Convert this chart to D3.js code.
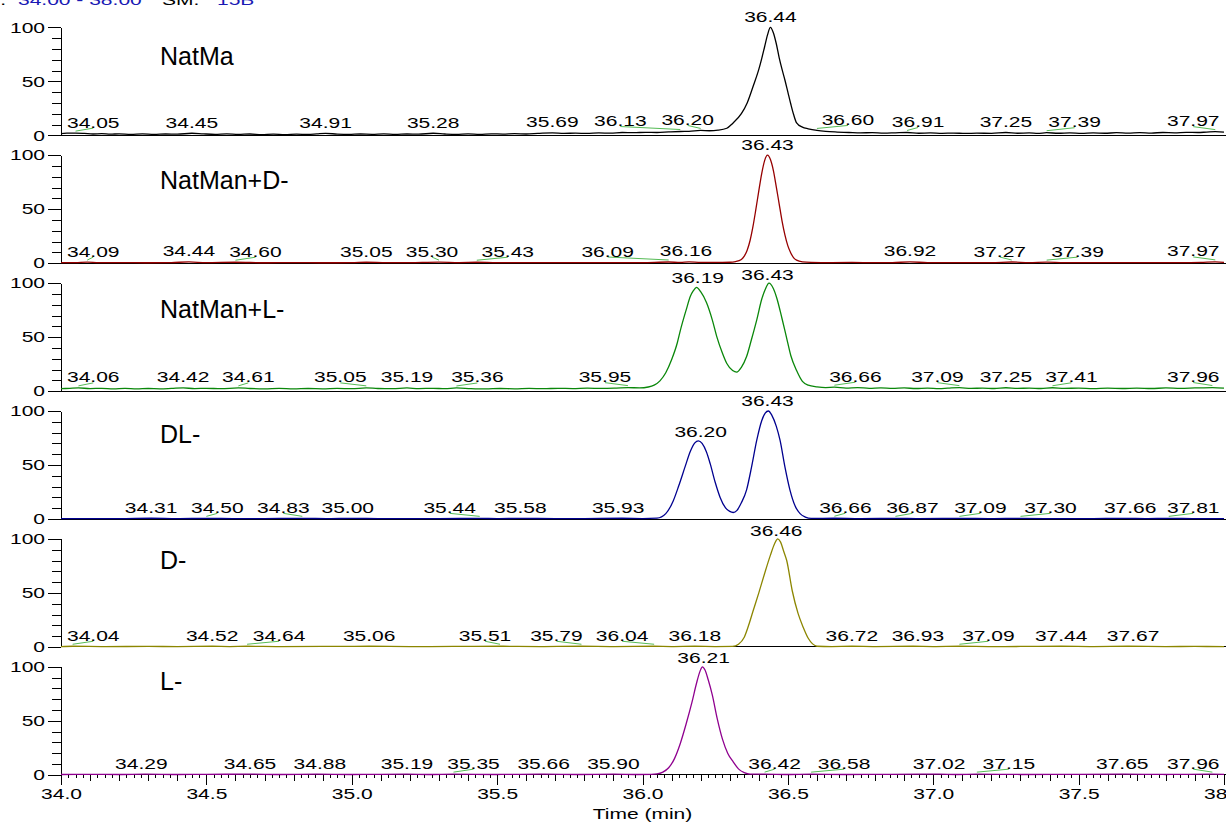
<!DOCTYPE html>
<html>
<head>
<meta charset="utf-8">
<script src="https://cdn.jsdelivr.net/npm/d3@7"></script>
<style>
  body { margin: 0; background: #fff; }
  svg { display: block; }
  text { font-family: "Liberation Sans", Arial, sans-serif; }
</style>
</head>
<body>
<svg id="chart" width="1226" height="823"></svg>
<script>
// ---- Chromatogram traces: [retention time (min), relative abundance (%)] ----
const traceNatMa = [[34.00,1.6],[34.02,2.0],[34.05,2.0],[34.08,1.7],[34.11,1.2],[34.14,1.5],[34.17,1.0],[34.20,1.4],[34.24,0.9],[34.28,1.3],[34.32,0.8],[34.36,1.2],[34.40,1.0],[34.45,1.9],[34.49,1.3],[34.53,0.9],[34.57,1.4],[34.61,0.8],[34.65,1.2],[34.69,0.7],[34.73,1.1],[34.77,0.6],[34.81,1.0],[34.85,0.8],[34.88,1.3],[34.91,1.8],[34.95,1.1],[34.99,0.8],[35.03,1.2],[35.07,0.9],[35.11,1.3],[35.15,0.8],[35.19,1.2],[35.23,1.0],[35.28,1.9],[35.32,1.2],[35.36,0.8],[35.40,1.3],[35.44,0.9],[35.48,1.4],[35.52,1.1],[35.56,1.5],[35.60,1.2],[35.64,1.7],[35.69,2.3],[35.73,1.8],[35.77,2.0],[35.81,1.7],[35.85,2.2],[35.89,2.0],[35.93,2.6],[35.97,2.4],[36.01,2.8],[36.05,2.6],[36.09,3.1],[36.13,3.5],[36.16,3.6],[36.20,4.5],[36.23,4.2],[36.26,4.7],[36.29,6.5],[36.31,11],[36.34,20],[36.36,30],[36.38,45],[36.40,61],[36.41,71],[36.42,82],[36.43,93],[36.44,100],[36.45,95],[36.46,85],[36.47,72],[36.48,61],[36.49,51],[36.50,40],[36.51,29],[36.52,19],[36.53,11.5],[36.55,7.5],[36.57,6],[36.60,4.5],[36.63,3.6],[36.67,3.0],[36.71,2.6],[36.75,2.2],[36.79,2.5],[36.83,2.0],[36.87,2.3],[36.91,2.6],[36.95,1.9],[36.99,2.2],[37.03,1.8],[37.07,2.1],[37.11,1.7],[37.15,2.0],[37.20,1.8],[37.25,2.6],[37.29,1.9],[37.33,2.2],[37.36,1.8],[37.39,2.4],[37.43,1.9],[37.47,2.3],[37.51,1.8],[37.55,2.2],[37.59,1.9],[37.63,2.4],[37.67,2.0],[37.71,2.5],[37.75,2.1],[37.79,2.6],[37.83,2.3],[37.87,2.8],[37.91,2.6],[37.94,3.0],[37.97,3.4],[38.00,3.0]];

const traceNatManD = [[34.00,0.5],[34.05,0.6],[34.09,1.0],[34.13,0.5],[34.20,0.6],[34.30,0.4],[34.38,0.6],[34.44,1.2],[34.50,0.5],[34.60,0.9],[34.70,0.4],[34.80,0.6],[34.90,0.4],[35.00,0.5],[35.05,0.9],[35.12,0.5],[35.20,0.6],[35.30,1.0],[35.37,0.6],[35.43,0.9],[35.50,0.5],[35.60,0.6],[35.70,0.5],[35.80,0.6],[35.90,0.5],[36.00,0.6],[36.09,1.1],[36.13,0.7],[36.16,1.3],[36.20,0.8],[36.26,0.8],[36.30,0.9],[36.32,1.5],[36.34,3.5],[36.35,6.5],[36.36,12],[36.37,21],[36.38,34],[36.39,50],[36.40,67],[36.41,83],[36.42,95],[36.43,100],[36.44,96],[36.45,86],[36.46,71],[36.47,55],[36.48,39],[36.49,26],[36.50,16],[36.51,9.5],[36.52,5],[36.53,2.8],[36.55,1.3],[36.58,0.8],[36.65,0.6],[36.72,0.7],[36.80,0.5],[36.86,0.6],[36.92,1.2],[36.98,0.6],[37.05,0.5],[37.12,0.6],[37.20,0.5],[37.27,1.1],[37.33,0.6],[37.39,1.0],[37.45,0.5],[37.55,0.6],[37.65,0.5],[37.75,0.6],[37.85,0.5],[37.92,0.7],[37.97,1.2],[38.00,0.8]];

const traceNatManL = [[34.00,2.2],[34.03,2.6],[34.06,3.0],[34.10,2.3],[34.14,2.6],[34.18,2.1],[34.22,2.5],[34.26,2.0],[34.30,2.4],[34.34,2.1],[34.38,2.5],[34.42,3.0],[34.46,2.3],[34.50,2.6],[34.55,2.2],[34.61,3.0],[34.65,2.4],[34.70,2.1],[34.75,2.5],[34.80,2.0],[34.85,2.4],[34.90,2.1],[34.95,2.5],[35.00,2.2],[35.05,3.0],[35.09,2.4],[35.14,2.2],[35.19,2.9],[35.23,2.3],[35.28,2.6],[35.32,2.2],[35.36,2.9],[35.41,2.3],[35.46,2.0],[35.51,2.4],[35.56,2.1],[35.61,2.5],[35.66,2.2],[35.71,2.6],[35.76,2.3],[35.81,2.7],[35.86,2.5],[35.91,2.8],[35.95,3.2],[35.99,3.0],[36.02,3.8],[36.04,5.5],[36.06,9.5],[36.08,17],[36.10,29],[36.12,45],[36.13,56],[36.15,75],[36.165,88],[36.175,93],[36.186,96],[36.20,92],[36.22,82],[36.24,66],[36.256,50],[36.275,35],[36.29,25.5],[36.31,19],[36.324,17.5],[36.34,22],[36.358,32],[36.375,48],[36.393,66],[36.41,85],[36.422,94],[36.435,100],[36.45,95],[36.462,86],[36.48,67],[36.495,50],[36.51,33],[36.53,19],[36.55,9],[36.57,5.5],[36.60,4.0],[36.63,3.3],[36.66,3.6],[36.70,2.8],[36.74,3.2],[36.78,2.6],[36.82,3.0],[36.86,2.5],[36.90,2.9],[36.94,2.4],[36.98,2.8],[37.02,2.3],[37.05,2.7],[37.09,3.2],[37.13,2.5],[37.17,2.8],[37.21,2.4],[37.25,3.1],[37.29,2.5],[37.33,2.8],[37.37,2.4],[37.41,3.1],[37.45,2.5],[37.50,2.8],[37.55,2.3],[37.60,2.7],[37.65,2.4],[37.70,2.8],[37.75,2.4],[37.80,2.9],[37.85,2.5],[37.90,2.9],[37.96,3.3],[38.00,2.8]];

const traceDL = [[34.00,0.3],[34.10,0.4],[34.20,0.3],[34.31,0.7],[34.40,0.3],[34.50,0.6],[34.60,0.3],[34.70,0.4],[34.83,0.6],[34.92,0.3],[35.00,0.6],[35.10,0.3],[35.20,0.4],[35.30,0.3],[35.44,0.6],[35.50,0.3],[35.58,0.6],[35.70,0.3],[35.80,0.4],[35.93,0.7],[36.00,0.4],[36.05,0.8],[36.08,5],[36.106,17],[36.125,31],[36.146,48],[36.165,63],[36.18,70.5],[36.192,72.4],[36.205,70],[36.22,62],[36.233,51],[36.25,34],[36.267,20],[36.285,10.5],[36.30,7],[36.312,6],[36.325,8],[36.34,15],[36.358,27],[36.375,48],[36.393,73],[36.41,91],[36.422,98],[36.433,100],[36.445,96],[36.46,86],[36.473,73],[36.49,48],[36.507,27],[36.525,12],[36.542,5],[36.56,1.8],[36.58,0.5],[36.66,0.7],[36.75,0.3],[36.87,0.6],[36.95,0.3],[37.09,0.6],[37.20,0.3],[37.30,0.6],[37.45,0.3],[37.55,0.4],[37.66,0.6],[37.73,0.3],[37.81,0.6],[37.90,0.3],[38.00,0.3]];

const traceD = [[34.00,0.3],[34.04,0.6],[34.15,0.3],[34.30,0.4],[34.40,0.3],[34.52,0.6],[34.58,0.3],[34.64,0.6],[34.75,0.3],[34.90,0.4],[35.06,0.6],[35.20,0.3],[35.35,0.4],[35.51,0.6],[35.65,0.3],[35.79,0.6],[35.90,0.3],[36.04,0.6],[36.10,0.3],[36.18,0.6],[36.25,0.3],[36.31,0.4],[36.33,2.5],[36.35,9],[36.365,20],[36.38,33],[36.40,50],[36.42,68],[36.44,85],[36.455,96],[36.465,100],[36.475,97],[36.485,89],[36.496,80],[36.515,52],[36.535,31],[36.553,18],[36.57,8],[36.585,2.8],[36.60,0.6],[36.65,0.3],[36.72,0.6],[36.80,0.3],[36.93,0.6],[37.00,0.3],[37.09,0.6],[37.20,0.3],[37.30,0.4],[37.44,0.6],[37.55,0.3],[37.67,0.6],[37.80,0.3],[37.90,0.4],[38.00,0.3]];

const traceL = [[34.00,0.3],[34.10,0.4],[34.20,0.3],[34.29,0.6],[34.40,0.3],[34.50,0.4],[34.65,0.6],[34.75,0.3],[34.88,0.6],[35.00,0.3],[35.10,0.4],[35.19,0.6],[35.27,0.3],[35.35,0.6],[35.50,0.3],[35.66,0.6],[35.78,0.3],[35.90,0.6],[35.98,0.3],[36.03,0.4],[36.05,0.8],[36.07,2.5],[36.09,6.5],[36.11,15],[36.13,29],[36.15,47],[36.17,67],[36.186,85],[36.198,96],[36.206,100],[36.215,97],[36.226,88],[36.24,74],[36.257,52],[36.275,33],[36.293,20],[36.312,12],[36.33,5.5],[36.35,2],[36.37,0.6],[36.42,0.6],[36.50,0.3],[36.58,0.6],[36.70,0.3],[36.85,0.4],[37.02,0.6],[37.08,0.3],[37.15,0.6],[37.30,0.3],[37.50,0.4],[37.65,0.6],[37.80,0.3],[37.96,0.6],[38.00,0.4]];

// ---- Labelled peak apex times (min) per trace ----
const peaksNatMa   = [34.05,34.45,34.91,35.28,35.69,36.13,36.20,36.44,36.60,36.91,37.25,37.39,37.97];
const peaksNatManD = [34.09,34.44,34.60,35.05,35.30,35.43,36.09,36.16,36.43,36.92,37.27,37.39,37.97];
const peaksNatManL = [34.06,34.42,34.61,35.05,35.19,35.36,35.95,36.19,36.43,36.66,37.09,37.25,37.41,37.96];
const peaksDL      = [34.31,34.50,34.83,35.00,35.44,35.58,35.93,36.20,36.43,36.66,36.87,37.09,37.30,37.66,37.81];
const peaksD       = [34.04,34.52,34.64,35.06,35.51,35.79,36.04,36.18,36.46,36.72,36.93,37.09,37.44,37.67];
const peaksL       = [34.29,34.65,34.88,35.19,35.35,35.66,35.90,36.21,36.42,36.58,37.02,37.15,37.65,37.96];

const traceNames = ["NatMa", "NatMan+D-", "NatMan+L-", "DL-", "D-", "L-"];
const traceColors = ["#000000", "#960000", "#0a870a", "#00008f", "#8c8600", "#8f008f"];

const timeTicks = [34.0, 34.5, 35.0, 35.5, 36.0, 36.5, 37.0, 37.5, 38.0];
const abundanceTicks = [0, 50, 100];

// ---- Layout (pixels) ----
// horizontal nudges of peak labels so neighbouring labels do not collide
const nudgeNatMa   = [0,0,0,0,0,-60,-13,0,31,11,0,28,0];
const nudgeNatManD = [0,0,20,0,-7,31,-61,-3,0,0,-12,31,0];
const nudgeNatManL = [0,0,10,-26,0,21,-23,0,0,21,-22,0,19,0];
const nudgeDL      = [0,11,-19,-4,-30,0,-4,0,0,11,17,21,30,5,25];
const nudgeD       = [0,0,32,0,-15,-25,-32,0,0,0,5,29,0,5];
const nudgeL       = [-4,0,3,0,20,0,0,0,10,33,0,32,0,0];
const nameRise = [70, 74, 73, 76, 78, 85];   // name baseline height above each panel's zero line

const W = 1226, H = 823;
const zeroLine0 = 135.3, panelStride = 127.9, panelH = 108;
const numSize = 14.8, numStretch = 1.42;

const traces = [traceNatMa, traceNatManD, traceNatManL, traceDL, traceD, traceL];
const peaks = [peaksNatMa, peaksNatManD, peaksNatManL, peaksDL, peaksD, peaksL];
const nudges = [nudgeNatMa, nudgeNatManD, nudgeNatManL, nudgeDL, nudgeD, nudgeL];

const svg = d3.select("#chart");
svg.append("rect").attr("width", W).attr("height", H).attr("fill", "#fff");

const x = d3.scaleLinear().domain([34, 38]).range([61, 1224]);

svg.append("defs").append("clipPath").attr("id", "plotClip")
  .append("rect").attr("x", 61).attr("y", 0).attr("width", W - 61).attr("height", H);

// horizontally widened numeric text
function numText(g, str, px, py, anchor, fill) {
  return g.append("text")
    .attr("transform", `translate(${px},${py}) scale(${numStretch},1)`)
    .attr("text-anchor", anchor || "middle")
    .attr("font-size", numSize)
    .attr("fill", fill || "#000")
    .text(str);
}

// value of a trace at time t (linear between samples)
const bis = d3.bisector(d => d[0]).left;
function valueAt(tr, t) {
  const i = bis(tr, t);
  if (i <= 0) return tr[0][1];
  if (i >= tr.length) return tr[tr.length - 1][1];
  const a = tr[i - 1], b = tr[i];
  return a[1] + (b[1] - a[1]) * (t - a[0]) / (b[0] - a[0]);
}

// ---- header (run range and smoothing) ----
const hdr = svg.append("g");
numText(hdr, "RT:", 6, 5, "end", "#000");
numText(hdr, "34.00 - 38.00", 18, 5, "start", "#1a1ab4");
numText(hdr, "SM:", 162, 5, "start", "#000");
numText(hdr, "15B", 217, 5, "start", "#1a1ab4");

traces.forEach((tr, i) => {
  const y0 = zeroLine0 + i * panelStride;
  const y = d3.scaleLinear().domain([0, 100]).range([y0, y0 - panelH]);
  const g = svg.append("g");

  // zero line across the panel
  g.append("line").attr("x1", 61).attr("x2", W).attr("y1", y0).attr("y2", y0)
    .attr("stroke", "#000").attr("stroke-width", 1).attr("shape-rendering", "crispEdges");

  // relative abundance axis
  const yMajor = g.append("g").attr("transform", "translate(61,0)")
    .call(d3.axisLeft(y).tickValues(abundanceTicks).tickSize(13).tickSizeOuter(0).tickPadding(3));
  yMajor.selectAll("path, line").attr("stroke", "#000").attr("shape-rendering", "crispEdges");
  yMajor.selectAll("text")
    .attr("x", -16 / numStretch)
    .attr("transform", `scale(${numStretch},1)`)
    .attr("font-size", numSize)
    .attr("font-family", "'Liberation Sans', Arial, sans-serif")
    .attr("fill", "#000");
  const yMinor = g.append("g").attr("transform", "translate(61,0)")
    .call(d3.axisLeft(y).tickValues([10, 20, 30, 40, 60, 70, 80, 90]).tickSize(9).tickFormat(""));
  yMinor.select(".domain").remove();
  yMinor.selectAll("line").attr("stroke", "#000").attr("shape-rendering", "crispEdges");

  // trace
  const line = d3.line().x(d => x(d[0])).y(d => y(d[1])).curve(d3.curveMonotoneX);
  g.append("path").datum(tr)
    .attr("clip-path", "url(#plotClip)")
    .attr("d", line)
    .attr("fill", "none")
    .attr("stroke", traceColors[i])
    .attr("stroke-width", 1.3)
    .attr("stroke-linejoin", "round");

  // trace name
  g.append("text").attr("x", 160).attr("y", y0 - nameRise[i])
    .attr("font-size", 25).attr("fill", "#000").text(traceNames[i]);

  // peak labels with leader lines where a label is displaced
  const lab = g.append("g");
  peaks[i].forEach((t, k) => {
    const v = valueAt(tr, t);
    const ax = x(t), ay = y(v);
    const by = ay - 5.5;
    const txt = numText(lab, t.toFixed(2), 0, by, "middle");
    const w = txt.node().getComputedTextLength() * numStretch;
    let cx = ax + nudges[i][k];
    cx = Math.max(67 + w / 2, Math.min(1219.5 - w / 2, cx));
    txt.attr("transform", `translate(${cx},${by}) scale(${numStretch},1)`);
    if (Math.abs(cx - ax) > 5.5) {
      lab.insert("line", "text")
        .attr("x1", ax).attr("y1", ay - 2)
        .attr("x2", cx).attr("y2", by + 0.5)
        .attr("stroke", "#55bb55").attr("stroke-width", 1);
    }
  });

  // time axis under the last panel
  if (i === traces.length - 1) {
    const minor = d3.range(0, 161).map(n => 34 + n * 0.025);
    const mid = d3.range(0, 41).map(n => 34 + n * 0.1);
    const gMinor = g.append("g").attr("transform", `translate(0,${y0})`)
      .call(d3.axisBottom(x).tickValues(minor).tickSize(3).tickFormat("").tickSizeOuter(0));
    gMinor.select(".domain").remove();
    const gMid = g.append("g").attr("transform", `translate(0,${y0})`)
      .call(d3.axisBottom(x).tickValues(mid).tickSize(6).tickFormat("").tickSizeOuter(0));
    gMid.select(".domain").remove();
    const gMaj = g.append("g").attr("transform", `translate(0,${y0})`)
      .call(d3.axisBottom(x).tickValues(timeTicks).tickSize(10).tickFormat(d3.format(".1f")).tickSizeOuter(0));
    gMaj.select(".domain").remove();
    [gMinor, gMid, gMaj].forEach(a => a.selectAll("line").attr("stroke", "#000").attr("shape-rendering", "crispEdges"));
    gMaj.selectAll("text")
      .attr("y", 13.5)
      .attr("transform", `scale(${numStretch},1)`)
      .attr("font-size", numSize)
      .attr("font-family", "'Liberation Sans', Arial, sans-serif")
      .attr("fill", "#000");
    numText(g, "Time (min)", 642.5, 819, "middle");
  }
});
</script>
</body>
</html>
